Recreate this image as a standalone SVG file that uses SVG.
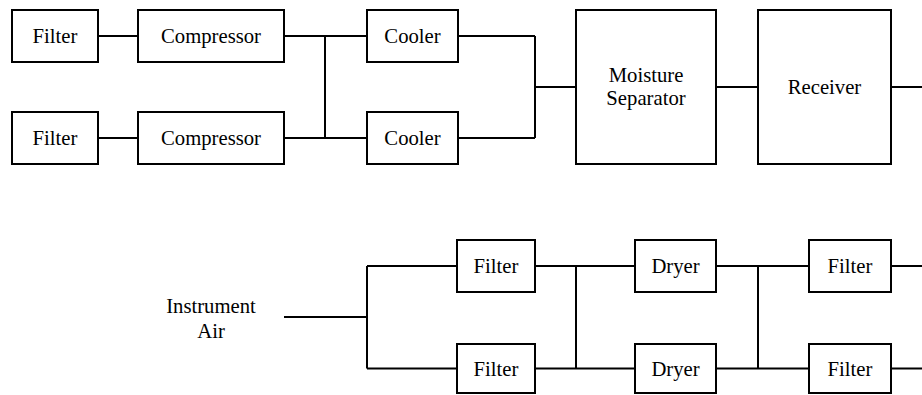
<svg xmlns="http://www.w3.org/2000/svg" width="922" height="395" viewBox="0 0 922 395">
<style>
rect{fill:#fff;stroke:#000;stroke-width:2}
.c{fill:none;stroke:#000;stroke-width:2}
.t{font-size:20.7px;fill:#000;text-anchor:middle}
.s{font-family:'Liberation Serif'}
</style>
<rect x="0" y="0" width="922" height="395" style="stroke:none"/>
<g id="connectors" class="c">
<path d="M98 36H138M98 138H138M284 36H367M284 138H367M325 36V138"/>
<path d="M458 36H535M458 138H535M535 36V138M535 87H576M716 87H758M891 87H922"/>
<path d="M284 317H367M367 266V368.5M367 266H457M367 368.5H457"/>
<path d="M535 266H635M535 368.5H635M576 266V368.5"/>
<path d="M716 266H809M716 368.5H809M758 266V368.5M891 266H922M891 368.5H922"/>
</g>
<g id="filter1"><rect x="12" y="10" width="86" height="52"/><text class="t" x="55" y="43"><tspan class="s" style="font-family:'Liberation Serif'">Filter</tspan></text></g>
<g id="filter2"><rect x="12" y="112" width="86" height="52"/><text class="t" x="55" y="145"><tspan class="s" style="font-family:'Liberation Serif'">Filter</tspan></text></g>
<g id="compressor1"><rect x="138" y="10" width="146" height="52"/><text class="t" x="211" y="43"><tspan class="s" style="font-family:'Liberation Serif'">Compressor</tspan></text></g>
<g id="compressor2"><rect x="138" y="112" width="146" height="52"/><text class="t" x="211" y="145"><tspan class="s" style="font-family:'Liberation Serif'">Compressor</tspan></text></g>
<g id="cooler1"><rect x="367" y="10" width="91" height="52"/><text class="t" x="412.5" y="43"><tspan class="s" style="font-family:'Liberation Serif'">Cooler</tspan></text></g>
<g id="cooler2"><rect x="367" y="112" width="91" height="52"/><text class="t" x="412.5" y="145"><tspan class="s" style="font-family:'Liberation Serif'">Cooler</tspan></text></g>
<g id="separator"><rect x="576" y="10" width="140" height="154"/><text class="t" x="646" y="82"><tspan class="s" style="font-family:'Liberation Serif'">Moisture</tspan></text><text class="t" x="646" y="104.5"><tspan class="s" style="font-family:'Liberation Serif'">Separator</tspan></text></g>
<g id="receiver"><rect x="758" y="10" width="133" height="154"/><text class="t" x="824.5" y="94"><tspan class="s" style="font-family:'Liberation Serif'">Receiver</tspan></text></g>
<g id="instrument-air"><text class="t" x="211" y="312.5"><tspan class="s" style="font-family:'Liberation Serif'">Instrument</tspan></text><text class="t" x="211" y="337.5"><tspan class="s" style="font-family:'Liberation Serif'">Air</tspan></text></g>
<g id="filter3"><rect x="457" y="240" width="78" height="52"/><text class="t" x="496" y="273"><tspan class="s" style="font-family:'Liberation Serif'">Filter</tspan></text></g>
<g id="filter4"><rect x="457" y="344" width="78" height="49"/><text class="t" x="496" y="376"><tspan class="s" style="font-family:'Liberation Serif'">Filter</tspan></text></g>
<g id="dryer1"><rect x="635" y="240" width="81" height="52"/><text class="t" x="675.5" y="273"><tspan class="s" style="font-family:'Liberation Serif'">Dryer</tspan></text></g>
<g id="dryer2"><rect x="635" y="344" width="81" height="49"/><text class="t" x="675.5" y="376"><tspan class="s" style="font-family:'Liberation Serif'">Dryer</tspan></text></g>
<g id="filter5"><rect x="809" y="240" width="82" height="52"/><text class="t" x="850" y="273"><tspan class="s" style="font-family:'Liberation Serif'">Filter</tspan></text></g>
<g id="filter6"><rect x="809" y="344" width="82" height="49"/><text class="t" x="850" y="376"><tspan class="s" style="font-family:'Liberation Serif'">Filter</tspan></text></g>
</svg>
